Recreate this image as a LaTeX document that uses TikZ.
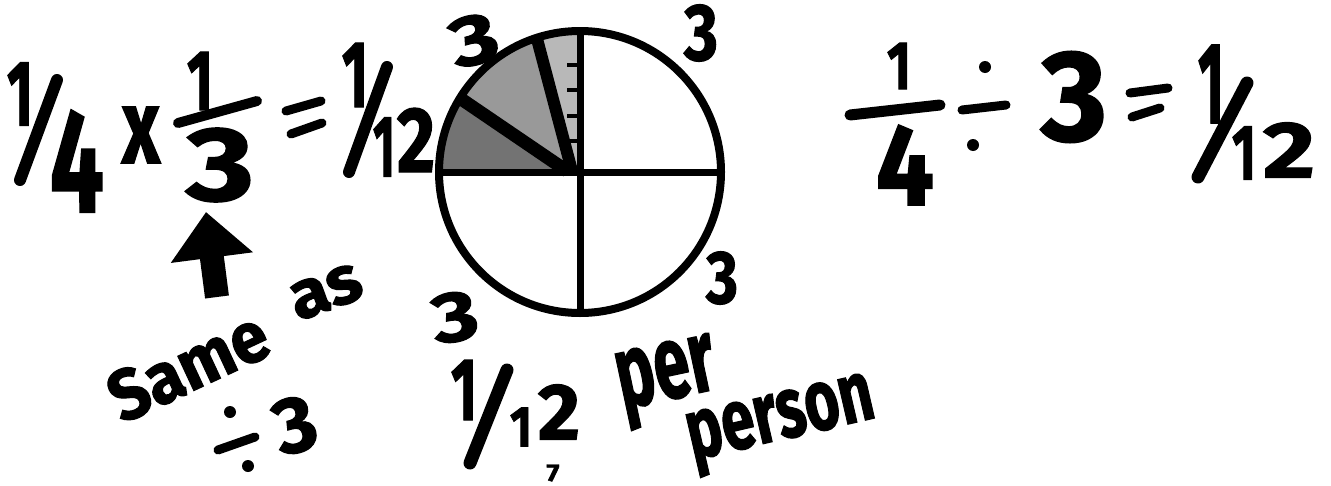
\documentclass[tikz,border=0pt]{standalone}
\usepackage{fontspec}
\setmainfont{Fira Sans}
\newfontfamily\handfont{Fira Sans}[BoldFeatures={FakeBold=1.5}]
\usetikzlibrary{arrows.meta}
\newcommand{\hw}[3]{\resizebox*{#1pt}{#2pt}{\handfont\bfseries #3}}

\begin{document}
\begin{tikzpicture}[x=1pt,y=-1pt,
  ink/.style={inner sep=0pt,outer sep=0pt},
  pen/.style={line width=#1,line cap=round},
  pen/.default=10pt,
  wedge/.style={fill=black!#1},
  >={Triangle[width=80pt,length=46pt]}]
  \useasboundingbox (0,0) rectangle (1331,485);
  % left equation
  \node[ink] (anum) at (20,94) {\hw{26}{63}{1}};
  \draw[pen=12pt] (57,80) -- (20,180);
  \node[ink] (aden) at (77,161) {\hw{54}{102}{4}};
  \node[ink] (times) at (141,135) {\hw{38}{56}{x}};
  \node[ink] (bnum) at (200,81) {\hw{26}{58}{1}};
  \draw[pen] (178,123) -- (257,101);
  \node[ink] (bden) at (220,165) {\hw{68}{74}{3}};
  \draw[pen=9pt] (286,111) -- (321,101) (291,134) -- (322,123);
  \node[ink] (cnum) at (355,75) {\hw{26}{64}{1}};
  \draw[pen=12pt] (387,67) -- (349,172);
  \node[ink] (cdena) at (384,147) {\hw{22}{59}{1}};
  \node[ink] (cdenb) at (416,140) {\hw{38}{64}{2}};
  % arrow and note
  \coordinate (tail) at (217,297);
  \coordinate (tip) at (206,212);
  \draw[line width=24pt,->] (tail) -- (tip);
  \node[ink,rotate=25] (same) at (188,366) {\hw{168}{52}{Same}};
  \node[ink,rotate=20] (as) at (326,292) {\hw{73}{38}{as}};
  \draw[pen=9pt] (218,450) -- (255,437);
  \fill (230,412) circle[radius=6pt] (248,466) circle[radius=6pt];
  \node[ink,rotate=15] (divby) at (295,425) {\hw{42}{56}{3}};
  % circle cut in fourths, one fourth in thirds
  \coordinate (ctr) at (580,172);
  \coordinate (hub) at (567,171);
  \begin{scope}
    \clip (ctr) circle[radius=141pt];
    \fill[wedge=55] (hub) -- (420,71) -- (420,172) -- cycle;
    \fill[wedge=40] (hub) -- (420,71) -- (420,20) -- (532,20) -- (572,171) -- cycle;
    \fill[wedge=28] (572,171) -- (532,20) -- (580,20) -- (580,172) -- cycle;
    \draw[line width=13pt] (hub) -- (420,71);
    \draw[line width=12pt] (572,171) -- (532,20);
    \foreach \y in {65,90,116,141}
      \draw[line width=4pt] (567,\y) -- (580,\y);
  \end{scope}
  \draw[line width=7pt] (439,172) -- (721,172);
  \draw[line width=7pt] (580,31) -- (580,313);
  \draw[line width=8pt] (ctr) circle[radius=141pt];
  \node[ink,rotate=15] (tl) at (474,40) {\hw{48}{50}{3}};
  \node[ink] (tr) at (701,33) {\hw{34}{57}{3}};
  \node[ink] (br) at (722,278) {\hw{32}{53}{3}};
  \node[ink,rotate=10] (bl) at (455,317) {\hw{46}{50}{3}};
  % under the circle
  \node[ink] (dnum) at (464,390) {\hw{26}{60}{1}};
  \draw[pen=13pt] (507,370) -- (470,463);
  \node[ink] (ddena) at (521,427) {\hw{22}{39}{1}};
  \node[ink] (ddenb) at (559,412) {\hw{42}{55}{2}};
  \node[ink] (page) at (553,473) {\hw{13}{17}{7}};
  \node[ink,rotate=12] (per) at (668,382) {\hw{100}{80}{per}};
  \node[ink,rotate=13] (person) at (782,425) {\hw{190}{66}{person}};
  % right equation
  \node[ink] (enum) at (899,66) {\hw{24}{46}{1}};
  \draw[pen=11pt] (850,115) -- (940,105);
  \node[ink] (eden) at (905,165) {\hw{58}{80}{4}};
  \draw[pen=9pt] (962,110) -- (1006,105);
  \fill (985,67) circle[radius=6pt] (973,145) circle[radius=6pt];
  \node[ink] (three) at (1074,97) {\hw{66}{91}{3}};
  \draw[pen=9pt] (1130,93) -- (1168,88) (1132,117) -- (1160,108);
  \node[ink] (fnum) at (1211,84) {\hw{26}{78}{1}};
  \draw[pen=13pt] (1247,83) -- (1198,177);
  \node[ink] (fdena) at (1244,153) {\hw{24}{53}{1}};
  \node[ink] (fdenb) at (1289,150) {\hw{52}{55}{2}};
\end{tikzpicture}
\end{document}
